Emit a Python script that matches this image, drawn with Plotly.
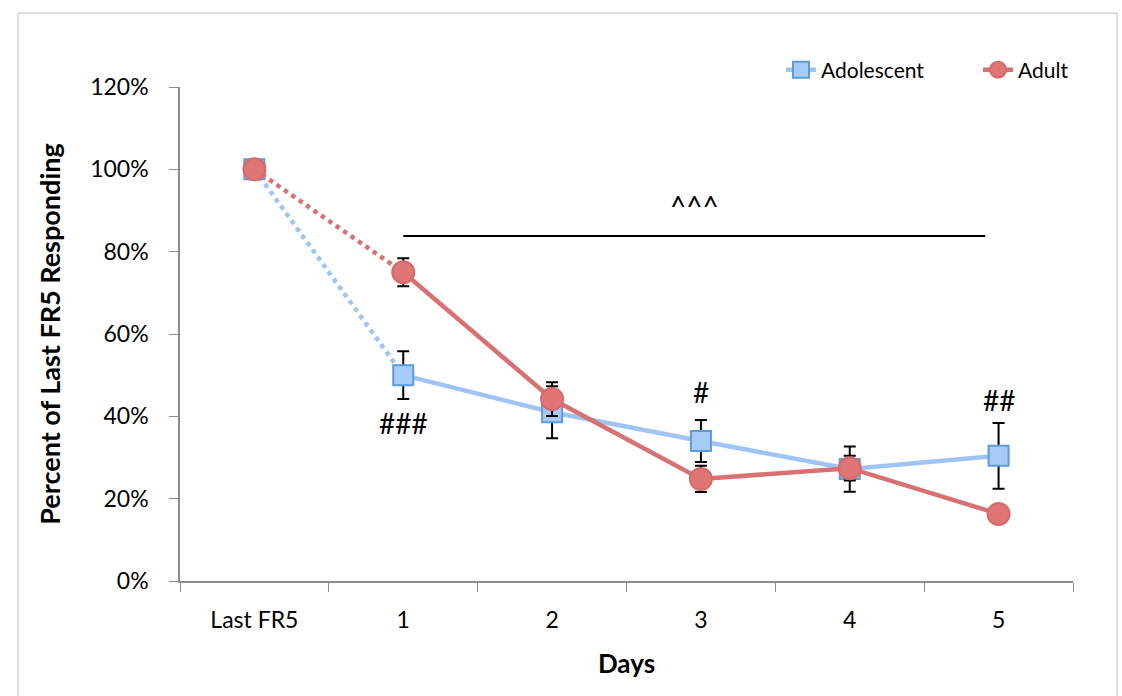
import plotly.graph_objects as go

categories = ["Last FR5", "1", "2", "3", "4", "5"]
adolescent = [1.00, 0.50, 0.41, 0.34, 0.272, 0.304]
adolescent_err = [0.0, 0.058, 0.063, 0.051, 0.055, 0.08]
adult = [1.00, 0.75, 0.442, 0.248, 0.274, 0.163]
adult_err = [0.0, 0.034, 0.041, 0.032, 0.03, 0.01]
y_ticks = [0, 0.2, 0.4, 0.6, 0.8, 1.0, 1.2]
y_ticktext = ["0%", "20%", "40%", "60%", "80%", "100%", "120%"]

BLUE_LINE = "#9EC3F5"
BLUE_FILL = "#A7CBF8"
BLUE_EDGE = "#5B9BD9"
RED_LINE = "#D87272"
RED_FILL = "#E07575"
RED_EDGE = "#D46A6A"
FONT = "Lato"

fig = go.Figure()

def add_series(vals, errs, line_col, fill_col, edge_col, symbol, size, name, legend):
    fig.add_trace(go.Scatter(x=categories[:2], y=vals[:2], mode="lines",
                             line=dict(color=line_col, width=4.5, dash="dot"),
                             showlegend=False, hoverinfo="skip"))
    fig.add_trace(go.Scatter(x=categories[1:], y=vals[1:], mode="lines+markers", name=name,
                             line=dict(color=line_col, width=4.5),
                             marker=dict(symbol=symbol, size=size, color=fill_col,
                                         line=dict(color=edge_col, width=2)),
                             error_y=dict(type="data", array=errs[1:], color="black",
                                          thickness=2, width=6),
                             legend=legend))
    fig.add_trace(go.Scatter(x=categories[:1], y=vals[:1], mode="markers",
                             marker=dict(symbol=symbol, size=size, color=fill_col,
                                         line=dict(color=edge_col, width=2)),
                             showlegend=False))

add_series(adolescent, adolescent_err, BLUE_LINE, BLUE_FILL, BLUE_EDGE, "square", 20, "Adolescent", "legend")
add_series(adult, adult_err, RED_LINE, RED_FILL, RED_EDGE, "circle", 22, "Adult", "legend2")

L, R, T, B = 180, 49, 87, 115
W, H = 1122, 696
pw = W - L - R
ph = H - T - B

def px_x(p):
    return (p - L) / pw

def px_y(p):
    return (H - B - p) / ph

fig.add_shape(type="line", xref="x", yref="y", x0=1, x1=4.91, y0=0.838, y1=0.838,
              line=dict(color="black", width=2))
fig.add_shape(type="rect", xref="paper", yref="paper",
              x0=px_x(18), x1=px_x(1117), y0=px_y(700), y1=px_y(13),
              line=dict(color="#BFBFBF", width=1))

ann_font = dict(family=FONT, size=28, color="black")
fig.add_annotation(x=2.96, y=0.912, text="^^^", showarrow=False, font=ann_font)
fig.add_annotation(x=1, y=0.384, text="###", showarrow=False, font=ann_font)
fig.add_annotation(x=3, y=0.459, text="#", showarrow=False, font=ann_font)
fig.add_annotation(x=5, y=0.44, text="##", showarrow=False, font=ann_font)

fig.update_layout(
    width=W, height=H,
    margin=dict(l=L, r=R, t=T, b=B),
    paper_bgcolor="white", plot_bgcolor="white",
    font=dict(family=FONT, size=23, color="black"),
    legend=dict(x=px_x(781), y=px_y(70), xanchor="left", yanchor="middle",
                font=dict(family=FONT, size=21), bgcolor="rgba(0,0,0,0)"),
    legend2=dict(x=px_x(978), y=px_y(70), xanchor="left", yanchor="middle",
                 font=dict(family=FONT, size=21), bgcolor="rgba(0,0,0,0)"),
    xaxis=dict(type="category", categoryorder="array", categoryarray=categories,
               range=[-0.5, 5.5], tickson="boundaries", ticks="outside", ticklen=9,
               tickcolor="#8C8C8C", showline=True, linecolor="#8C8C8C", linewidth=1.5,
               showgrid=False, zeroline=False, ticklabelstandoff=18,
               tickfont=dict(family=FONT, size=23),
               title=dict(text="<b>Days</b>", font=dict(family=FONT, size=26), standoff=22)),
    yaxis=dict(range=[0, 1.2], tickvals=y_ticks, ticktext=y_ticktext, ticks="outside",
               ticklen=9, tickcolor="#8C8C8C", showline=True, linecolor="#8C8C8C",
               linewidth=1.5, showgrid=False, zeroline=False, ticklabelstandoff=16,
               tickfont=dict(family=FONT, size=23),
               title=dict(text="<b>Percent of Last FR5 Responding</b>",
                          font=dict(family=FONT, size=27), standoff=22)),
)

fig.write_html("out.html")
